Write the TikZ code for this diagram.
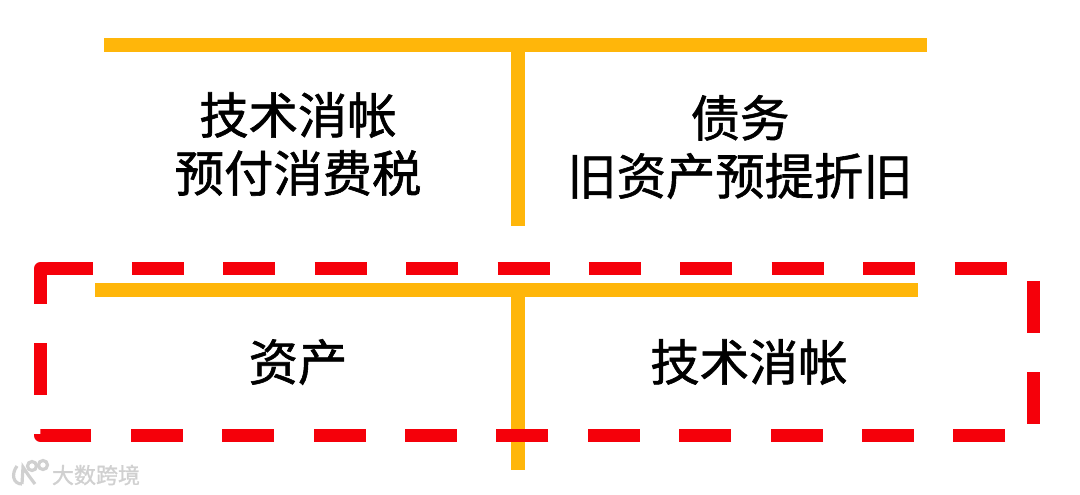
\documentclass[tikz,border=0pt]{standalone}
\usepackage{fontspec}
\setmainfont{Noto Sans CJK SC}
\newfontfamily\cellfont[FakeBold=1.2]{Noto Sans CJK SC}
\newfontfamily\brandfont[FakeBold=1.2]{Noto Sans CJK SC}
\usepackage{xcolor}
\definecolor{tbar}{RGB}{255,182,10}
\definecolor{framered}{RGB}{245,0,10}
\definecolor{markgray}{RGB}{208,208,208}

\begin{document}
\begin{tikzpicture}[x=0.75pt,y=-0.75pt,
    bar/.style={draw=tbar, line width=10pt},
    cell/.style={font=\cellfont\fontsize{37}{43.5}\selectfont, align=center, text=black, inner sep=0pt},
    redframe/.style={draw=framered, line width=9.75pt, dash pattern=on 39pt off 29.55pt, dash phase=7.125pt, line join=round},
    logoline/.style={draw=markgray, line width=2.4pt}
]
\useasboundingbox (0,0) rectangle (1080,494);

% upper account
\coordinate (topl) at (104,45);
\coordinate (topr) at (927,45);
\coordinate (topm) at (518,45);
\coordinate (tope) at (518,226);
\draw[bar] (topl) -- (topr);
\draw[bar] (topm) -- (tope);
\node[cell] (debit) at (298,144) {技术消帐\\预付消费税};
\node[cell] (credit) at (740,147) {债务\\旧资产预提折旧};

% lower account
\coordinate (lowl) at (95,290);
\coordinate (lowr) at (918,290);
\coordinate (lowm) at (518,290);
\coordinate (lowe) at (518,470);
\draw[bar] (lowl) -- (lowr);
\draw[bar] (lowm) -- (lowe);
\node[cell] (asset) at (298,362) {资产};
\node[cell] (writeoff) at (749,362) {技术消帐};

% dashed frame, started just past the corner so that the corner stays solid
\coordinate (fs) at (50,268.5);
\coordinate (fa) at (40.5,268.5);
\coordinate (fb) at (1033.5,268.5);
\coordinate (fc) at (1033.5,435.5);
\coordinate (fd) at (40.5,435.5);
\draw[redframe] (fs) -- (fb) -- (fc) -- (fd) -- (fa) -- cycle;

% watermark
\draw[logoline] (17,466) .. controls (11,474) and (13,484) .. (22,484);
\draw[logoline] (22,484) -- (23,467) -- (29,476) -- (35,484);
\draw[logoline] (32,466) circle (4.5);
\draw[logoline] (43,465) circle (4.5);
\node[font=\brandfont\fontsize{16.5}{18}\selectfont, text=markgray, inner sep=0pt] (brand) at (96,475) {大数跨境};
\end{tikzpicture}
\end{document}
